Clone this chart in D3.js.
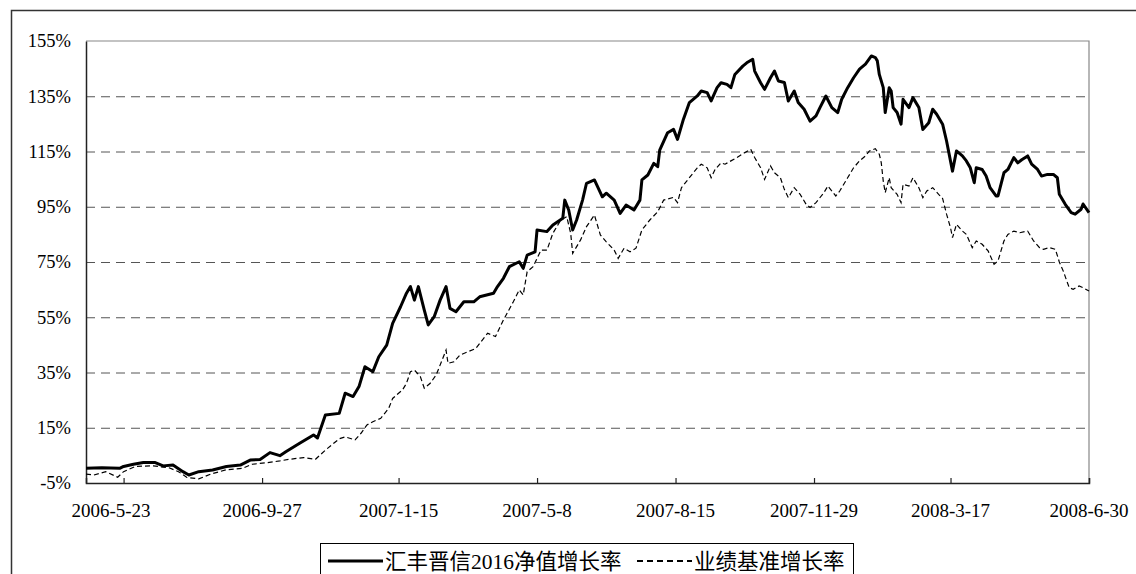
<!DOCTYPE html>
<html>
<head>
<meta charset="utf-8">
<script src="https://cdn.jsdelivr.net/npm/d3@7"></script>
<style>
  html, body { margin: 0; padding: 0; background: #fff; }
  svg { display: block; }
</style>
</head>
<body>
<svg id="chart"></svg>
<script>
// trading-day index (0 = 2006-5-23, 507 = 2008-6-30) and growth rate in %
const fundNav = [
  [0, 0.3], [8, 0.5], [17, 0.3], [19, 1.0], [24, 1.8], [29, 2.4], [35, 2.4], [39, 1.2], [44, 1.5],
  [49, -0.9], [52, -2.1], [57, -0.9], [64, -0.3], [71, 1.0], [78, 1.5], [83, 3.3], [88, 3.5],
  [93, 6.0], [98, 4.9], [101, 6.3], [108, 9.4], [115, 12.4], [117, 11.3], [121, 19.6], [128, 20.2],
  [131, 27.5], [135, 26.3], [138, 29.9], [141, 37.1], [145, 35.3], [148, 40.7], [152, 44.9],
  [155, 52.8], [159, 58.8], [162, 63.7], [164, 66.1], [166, 61.2], [168, 66.1], [171, 57.6],
  [173, 52.2], [176, 55.2], [179, 61.2], [182, 66.1], [184, 58.2], [187, 57.0], [191, 60.6],
  [196, 60.6], [199, 62.4], [206, 63.7], [208, 66.1], [211, 69.1], [214, 73.3], [219, 75.1],
  [221, 72.7], [223, 77.5], [227, 78.7], [228, 86.6], [233, 86.0], [236, 88.4], [241, 90.8],
  [242, 97.4], [244, 93.8], [246, 86.6], [248, 90.2], [251, 97.4], [253, 103.5], [257, 104.7],
  [261, 98.6], [263, 99.9], [267, 97.4], [270, 92.6], [273, 95.6], [277, 93.8], [280, 97.4],
  [281, 104.7], [284, 106.5], [287, 110.7], [289, 109.5], [290, 115.5], [294, 121.8], [297, 123.0],
  [299, 119.4], [302, 126.7], [305, 132.7], [309, 135.1], [311, 136.9], [314, 136.3], [316, 133.3],
  [319, 138.1], [321, 139.9], [324, 139.3], [326, 138.1], [328, 142.9], [332, 145.9], [334, 147.1],
  [337, 148.4], [338, 144.1], [341, 139.9], [343, 137.5], [346, 141.7], [348, 144.1], [350, 140.5],
  [353, 140.0], [355, 133.3], [358, 136.9], [360, 132.7], [363, 130.3], [366, 126.0], [369, 127.9],
  [371, 130.9], [374, 135.1], [377, 130.9], [380, 129.1], [382, 133.9], [385, 138.1], [388, 141.7],
  [391, 144.8], [394, 146.6], [397, 149.6], [399, 149.0], [400, 147.8], [401, 142.9], [403, 138.1],
  [404, 129.1], [406, 138.1], [407, 136.9], [408, 130.9], [410, 129.1], [412, 124.9], [413, 133.9],
  [416, 130.9], [418, 134.5], [421, 130.9], [423, 123.0], [426, 125.4], [428, 130.3], [430, 128.5],
  [433, 124.9], [435, 118.8], [438, 107.9], [440, 115.2], [443, 113.4], [445, 111.6], [447, 109.1],
  [449, 103.7], [450, 109.1], [453, 108.5], [455, 106.1], [457, 101.9], [460, 98.9], [461, 98.9],
  [464, 107.3], [466, 108.5], [469, 112.8], [471, 110.9], [473, 112.0], [476, 113.4], [478, 110.4],
  [481, 108.5], [483, 106.1], [486, 106.7], [489, 106.7], [491, 105.5], [492, 99.5], [495, 95.9],
  [498, 92.9], [500, 92.3], [503, 94.1], [504, 96.0], [507, 92.9]
];

const benchmark = [
  [0, -1.8], [4, -2.1], [10, -0.9], [16, -2.9], [19, -0.9], [25, 1.0], [34, 1.2], [42, 0.5],
  [47, -1.0], [51, -3.0], [57, -3.5], [63, -1.8], [71, -0.2], [79, 0.3], [84, 1.8], [91, 2.3],
  [98, 3.0], [103, 3.6], [110, 4.2], [116, 3.6], [121, 6.9], [128, 11.0], [131, 11.7], [136, 10.6],
  [139, 13.0], [142, 16.0], [145, 17.2], [149, 18.4], [153, 22.0], [155, 25.6], [158, 27.5],
  [160, 28.7], [162, 31.1], [164, 35.3], [166, 35.9], [169, 33.5], [171, 29.3], [174, 31.1],
  [177, 34.1], [180, 39.5], [182, 43.1], [183, 38.3], [186, 38.9], [189, 41.3], [193, 42.5],
  [197, 43.7], [203, 49.2], [207, 48.0], [211, 54.0], [216, 60.6], [219, 64.9], [221, 63.1],
  [223, 71.5], [226, 73.3], [230, 79.3], [233, 79.3], [236, 85.4], [240, 90.2], [243, 91.4],
  [245, 85.4], [246, 78.1], [250, 83.0], [253, 87.8], [257, 92.0], [260, 84.8], [263, 82.3],
  [267, 79.3], [269, 76.3], [272, 80.0], [275, 78.7], [278, 80.0], [281, 86.6], [285, 90.2],
  [289, 93.2], [292, 97.4], [297, 98.4], [299, 96.5], [301, 101.9], [305, 105.5], [309, 109.1],
  [311, 110.4], [314, 109.1], [316, 105.5], [318, 108.5], [321, 110.9], [323, 110.4], [326, 111.6],
  [329, 112.8], [333, 114.6], [336, 115.8], [338, 112.8], [341, 109.1], [343, 104.9], [346, 109.8],
  [348, 107.3], [351, 105.5], [353, 101.3], [355, 98.3], [358, 101.9], [361, 99.5], [364, 95.9],
  [366, 94.7], [369, 96.5], [373, 100.1], [375, 102.5], [379, 98.9], [381, 100.7], [385, 105.5],
  [388, 109.1], [391, 111.6], [394, 113.4], [396, 115.2], [399, 116.0], [401, 114.0], [402, 110.9],
  [403, 104.3], [404, 100.1], [406, 105.5], [407, 101.9], [410, 99.5], [412, 96.5], [413, 103.1],
  [416, 102.5], [418, 105.5], [421, 101.9], [423, 98.3], [425, 100.7], [428, 101.9], [431, 99.5],
  [433, 98.0], [435, 92.3], [437, 87.4], [438, 83.8], [440, 88.6], [443, 86.2], [445, 85.0],
  [448, 80.2], [450, 82.6], [453, 81.4], [456, 79.0], [459, 74.2], [461, 75.4], [463, 80.2],
  [464, 82.6], [466, 85.0], [469, 86.2], [472, 85.6], [476, 86.2], [479, 82.6], [482, 80.2],
  [484, 79.6], [487, 80.2], [490, 79.6], [492, 75.0], [494, 71.7], [497, 65.7], [499, 65.1],
  [502, 66.3], [504, 65.7], [507, 64.5]
];

const dayCount = 508;
const tickDays = [19, 89, 158, 228, 298, 368, 437, 507];
const labelDays = [0, 89, 158, 228, 298, 368, 437, 507];
const dateLabels = ['2006-5-23', '2006-9-27', '2007-1-15', '2007-5-8', '2007-8-15', '2007-11-29', '2008-3-17', '2008-6-30'];
const yTicks = [-5, 15, 35, 55, 75, 95, 115, 135, 155];
const seriesNames = ['汇丰晋信2016净值增长率', '业绩基准增长率'];

const W = 1136, H = 574;
const margin = { top: 41, right: 47, bottom: 91, left: 86 };
const width = W - margin.left - margin.right;
const height = H - margin.top - margin.bottom;
const font = '"Liberation Serif", "Times New Roman", "Noto Sans CJK SC", serif';

const root = d3.select('#chart').attr('width', W).attr('height', H);

// outer chart frame (runs off the right/bottom of the picture)
root.append('rect')
  .attr('x', 11.5).attr('y', 10.5)
  .attr('width', W + 20).attr('height', H + 20)
  .attr('fill', 'none')
  .attr('stroke', '#333')
  .attr('stroke-width', 1.5);

const svg = root.append('g').attr('transform', `translate(${margin.left},${margin.top})`);

const x = d3.scaleLinear().domain([0, dayCount - 1]).range([0, width]);
const y = d3.scaleLinear().domain([-5, 155]).range([height, 0]);

// gridlines
svg.append('g')
  .call(d3.axisLeft(y).tickValues(yTicks.slice(1, -1)).tickSize(-width).tickFormat(''))
  .call(g => g.select('.domain').remove())
  .call(g => g.selectAll('line')
    .attr('stroke', '#555')
    .attr('stroke-dasharray', '9,6'));

// top and right plot border
svg.append('path')
  .attr('d', `M0,${y(155)}H${width}V${height}`)
  .attr('fill', 'none')
  .attr('stroke', '#888')
  .attr('stroke-width', 1.2);

// y axis
svg.append('g')
  .call(d3.axisLeft(y).tickValues(yTicks).tickSize(0).tickPadding(15).tickFormat(d => d + '%'))
  .call(g => g.select('.domain').attr('stroke', '#222').attr('stroke-width', 1.5))
  .call(g => g.selectAll('text')
    .attr('font-family', font)
    .attr('font-size', '18.5px')
    .attr('fill', '#000'));

// x axis: tick marks point into the plot
svg.append('g')
  .attr('transform', `translate(0,${height})`)
  .call(d3.axisBottom(x).tickValues(tickDays).tickSize(-5).tickFormat(''))
  .call(g => g.select('.domain').attr('stroke', '#222').attr('stroke-width', 1.5))
  .call(g => g.selectAll('line').attr('stroke', '#222').attr('stroke-width', 1.2));

svg.append('g')
  .selectAll('text')
  .data(labelDays)
  .join('text')
  .attr('x', d => Math.max(x(d), x(0) + 25))
  .attr('y', height + 34)
  .attr('text-anchor', 'middle')
  .attr('font-family', font)
  .attr('font-size', '19px')
  .attr('fill', '#000')
  .text((d, i) => dateLabels[i]);

const line = d3.line()
  .x(d => x(d[0]))
  .y(d => y(d[1]));

svg.append('path')
  .datum(benchmark)
  .attr('d', line)
  .attr('fill', 'none')
  .attr('stroke', '#000')
  .attr('stroke-width', 1.2)
  .attr('stroke-dasharray', '5,3');

svg.append('path')
  .datum(fundNav)
  .attr('d', line)
  .attr('fill', 'none')
  .attr('stroke', '#000')
  .attr('stroke-width', 3)
  .attr('stroke-linejoin', 'round');

// legend
const legend = root.append('g').attr('transform', 'translate(320,543)');

legend.append('rect')
  .attr('x', 0.5).attr('y', 0.5)
  .attr('width', 533).attr('height', 40)
  .attr('fill', '#fff')
  .attr('stroke', '#000')
  .attr('stroke-width', 1);

const legendItems = [
  { name: seriesNames[0], x: 8, width: 3, dash: null },
  { name: seriesNames[1], x: 317, width: 2, dash: '6,4' },
];

legendItems.forEach(item => {
  legend.append('line')
    .attr('x1', item.x).attr('x2', item.x + 55)
    .attr('y1', 18).attr('y2', 18)
    .attr('stroke', '#000')
    .attr('stroke-width', item.width)
    .attr('stroke-dasharray', item.dash);
  legend.append('text')
    .attr('x', item.x + 57)
    .attr('y', 18)
    .attr('dy', '0.35em')
    .attr('font-family', font)
    .attr('font-size', '21.5px')
    .attr('fill', '#000')
    .text(item.name);
});
</script>
</body>
</html>
